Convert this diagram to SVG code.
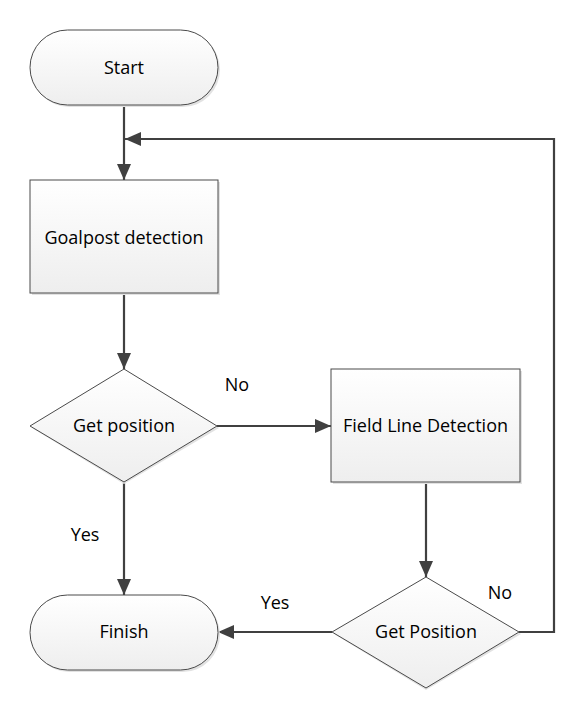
<svg xmlns="http://www.w3.org/2000/svg" width="579" height="704" viewBox="0 0 579 704">
<style>
.shape{fill:url(#g);stroke:#4a4a4a;stroke-width:1}
.shadow{fill:#e2e2e2;stroke:none}
.conn{fill:none;stroke:#404040;stroke-width:2.2}
text{font-family:"Open Sans","Liberation Sans",sans-serif;font-size:18px;fill:#000}
.c{text-anchor:middle}
</style>
<defs>
<linearGradient id="g" x1="0" y1="0" x2="0" y2="1">
<stop offset="0" stop-color="#ffffff"/>
<stop offset="1" stop-color="#eeeeee"/>
</linearGradient>
<marker id="ah" markerWidth="16" markerHeight="14" viewBox="0 0 16 14" refX="16" refY="7" orient="auto" markerUnits="userSpaceOnUse">
<path d="M0,0 L16,7 L0,14 Z" fill="#404040"/>
</marker>
</defs>
<rect width="579" height="704" fill="#ffffff"/>
<g id="connectors">
<path class="conn" d="M124,105 V180" marker-end="url(#ah)"/>
<path class="conn" d="M124,293 V369" marker-end="url(#ah)"/>
<path class="conn" d="M217,426 H331" marker-end="url(#ah)"/>
<path class="conn" d="M124,482 V595" marker-end="url(#ah)"/>
<path class="conn" d="M426,482 V577" marker-end="url(#ah)"/>
<path class="conn" d="M332,632 H218" marker-end="url(#ah)"/>
<path class="conn" d="M519,632 H554 V139 H125" marker-end="url(#ah)"/>
</g>
<g id="start">
<rect class="shadow" x="32" y="32" width="188" height="75" rx="37.5"/>
<rect class="shape" x="30" y="30" width="188" height="75" rx="37.5"/>
<text class="c" x="124" y="74">Start</text>
</g>
<g id="goalpost">
<rect class="shadow" x="32" y="182" width="188" height="113"/>
<rect class="shape" x="30" y="180" width="188" height="113"/>
<text class="c" x="124" y="244">Goalpost detection</text>
</g>
<g id="getpos1">
<path class="shadow" d="M124,371 L219,428 L124,484 L32,428 Z"/>
<path class="shape" d="M124,369 L217,426 L124,482 L30,426 Z"/>
<text class="c" x="124" y="432">Get position</text>
</g>
<g id="fieldline">
<rect class="shadow" x="333" y="371" width="189" height="113"/>
<rect class="shape" x="331" y="369" width="189" height="113"/>
<text class="c" x="425.5" y="432">Field Line Detection</text>
</g>
<g id="getpos2">
<path class="shadow" d="M426,579 L521,634 L426,690 L334,634 Z"/>
<path class="shape" d="M426,577 L519,632 L426,688 L332,632 Z"/>
<text class="c" x="426" y="638">Get Position</text>
</g>
<g id="finish">
<rect class="shadow" x="32" y="597" width="188" height="75" rx="37.5"/>
<rect class="shape" x="30" y="595" width="188" height="75" rx="37.5"/>
<text class="c" x="124" y="638">Finish</text>
</g>
<g id="labels">
<text class="c" x="237" y="391">No</text>
<text class="c" x="85" y="541">Yes</text>
<text class="c" x="275" y="609">Yes</text>
<text class="c" x="500" y="599">No</text>
</g>
</svg>
